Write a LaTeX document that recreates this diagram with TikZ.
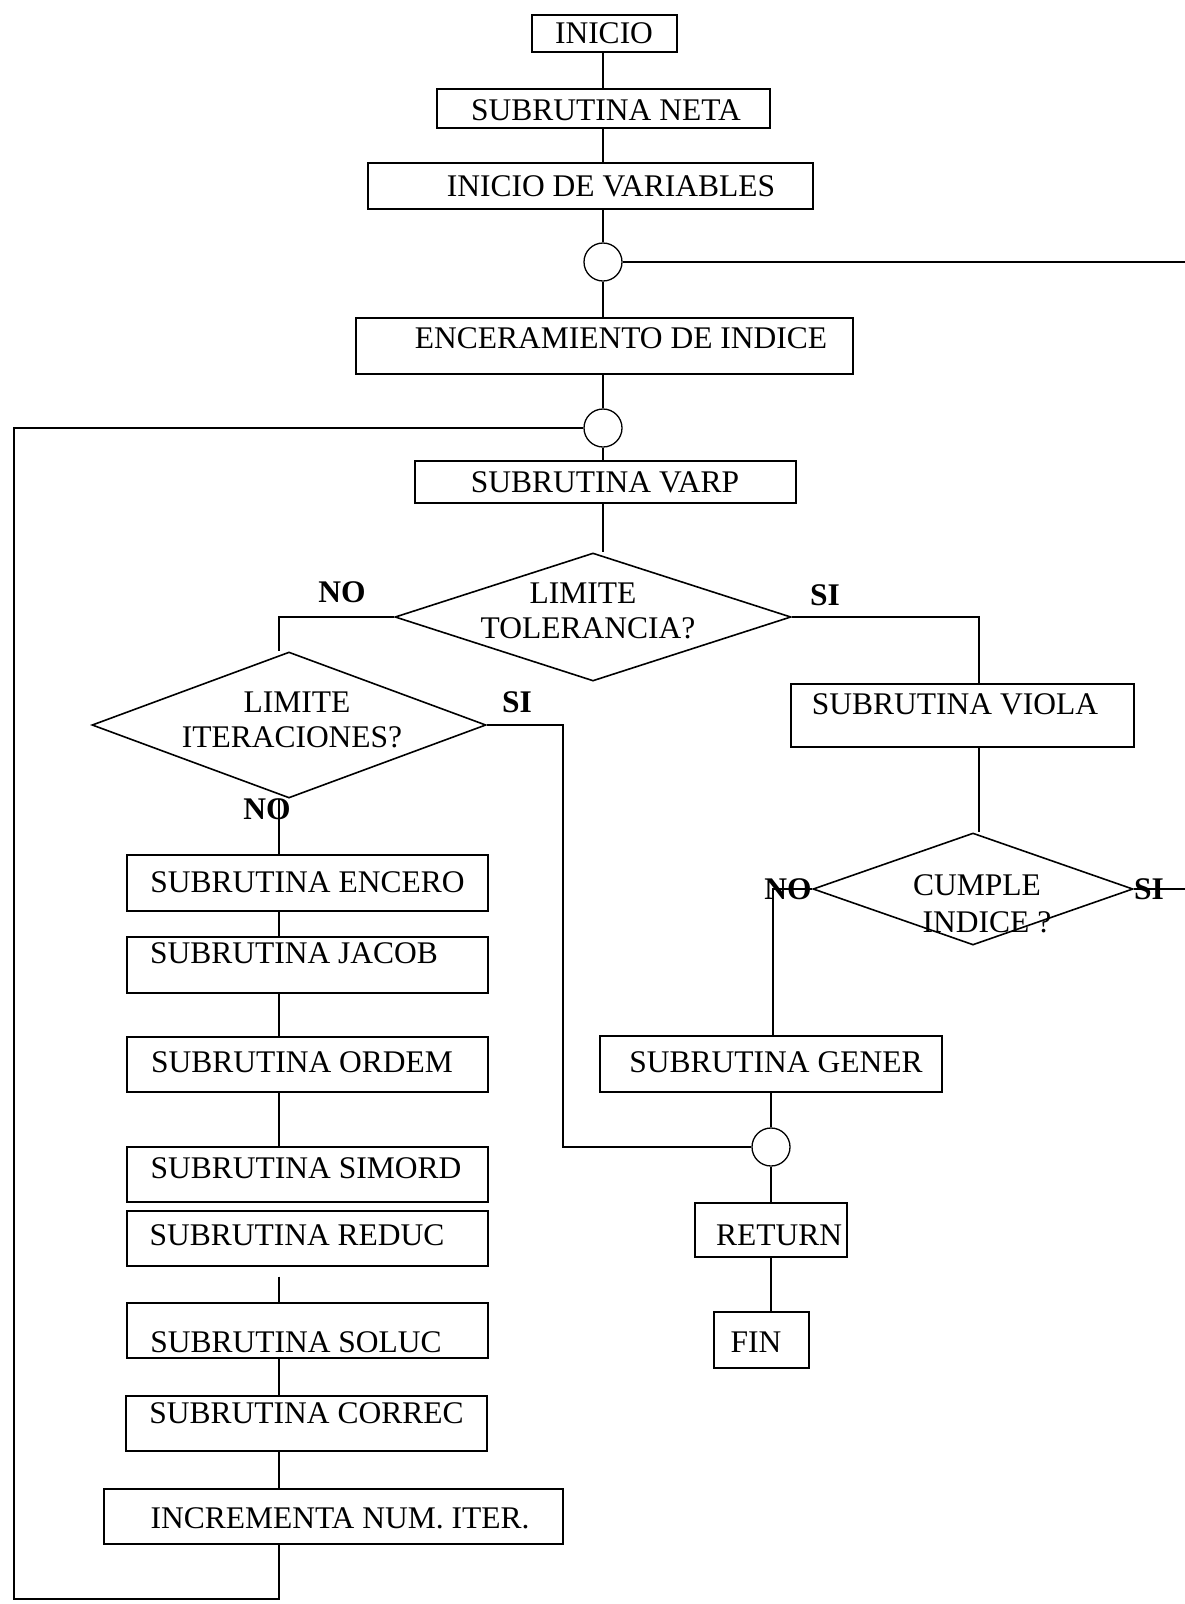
\documentclass[tikz,border=0pt]{standalone}
\usepackage{fontspec}
\setmainfont{Liberation Serif}
\usetikzlibrary{shapes.geometric}
\begin{document}
\begin{tikzpicture}[x=1pt,y=-1pt,
  line width=1.3pt,
  bx/.style={draw, rectangle, inner sep=0pt},
  dm/.style={draw, diamond, inner sep=0pt, line width=1.6pt},
  cj/.style={draw, circle, inner sep=0pt, minimum size=38pt},
  txt/.style={inner sep=0pt, text height=21pt, text depth=0pt, font=\fontsize{31.5}{36}\selectfont},
  lab/.style={txt, font=\fontsize{31.5}{36}\selectfont\bfseries}]
\useasboundingbox (0,0) rectangle (1185,1604);

% guide lanes for the connectors
\coordinate (mainx) at (603,0);
\coordinate (colL) at (279,0);
\coordinate (siX) at (563,0);
\coordinate (violaX) at (979,0);
\coordinate (noX) at (773,0);
\coordinate (edgeTop) at (1185,262);
\coordinate (edgeMid) at (1185,889);
\coordinate (lb) at (14,1599);
\coordinate (rb) at (279,1599);

% boxes
\node[bx, minimum width=145pt, minimum height=37pt] (ini) at (604.5,33.5) {};
\node[bx, minimum width=333pt, minimum height=39pt] (neta) at (603.5,108.5) {};
\node[bx, minimum width=445pt, minimum height=46pt] (var) at (590.5,186) {};
\node[bx, minimum width=497pt, minimum height=56pt] (enc) at (604.5,346) {};
\node[bx, minimum width=381pt, minimum height=42pt] (varp) at (605.5,482) {};
\node[bx, minimum width=343pt, minimum height=63pt] (viola) at (962.5,715.5) {};
\node[bx, minimum width=361pt, minimum height=56pt] (encero) at (307.5,883) {};
\node[bx, minimum width=361pt, minimum height=56pt] (jacob) at (307.5,965) {};
\node[bx, minimum width=361pt, minimum height=55pt] (ordem) at (307.5,1064.5) {};
\node[bx, minimum width=361pt, minimum height=55pt] (simord) at (307.5,1174.5) {};
\node[bx, minimum width=361pt, minimum height=55pt] (reduc) at (307.5,1238.5) {};
\node[bx, minimum width=361pt, minimum height=55pt] (soluc) at (307.5,1330.5) {};
\node[bx, minimum width=361pt, minimum height=55pt] (correc) at (306.5,1423.5) {};
\node[bx, minimum width=459pt, minimum height=55pt] (incr) at (333.5,1516.5) {};
\node[bx, minimum width=342pt, minimum height=56pt] (gener) at (771,1064) {};
\node[bx, minimum width=152pt, minimum height=54pt] (ret) at (771,1230) {};
\node[bx, minimum width=95pt, minimum height=56pt] (fin) at (761.5,1340) {};

% connectors (junction circles)
\node[cj] (c1) at (603,262) {};
\node[cj] (c2) at (603,428) {};
\node[cj] (c3) at (771,1147) {};

% decisions
\node[dm, minimum width=396pt, minimum height=128pt] (d1) at (593,617) {};
\node[dm, minimum width=394pt, minimum height=146pt] (d2) at (289,725) {};
\node[dm, minimum width=320pt, minimum height=112pt] (d3) at (973,889) {};

% texts
\node[txt] (tini) at (604,33) {INICIO};
\node[txt] (tneta) at (606,110) {SUBRUTINA NETA};
\node[txt] (tvar) at (611,186) {INICIO DE VARIABLES};
\node[txt] (tenc) at (621,338) {ENCERAMIENTO DE INDICE};
\node[txt] (tvarp) at (605,482) {SUBRUTINA VARP};
\node[txt] (td1a) at (583,593) {LIMITE};
\node[txt] (td1b) at (588,628) {TOLERANCIA?};
\node[txt] (td2a) at (297,702) {LIMITE};
\node[txt] (td2b) at (292,737) {ITERACIONES?};
\node[txt] (tviola) at (955,704) {SUBRUTINA VIOLA};
\node[txt] (td3a) at (977,885) {CUMPLE};
\node[txt] (td3b) at (987,922) {INDICE ?};
\node[txt] (tencero) at (307.5,882) {SUBRUTINA ENCERO};
\node[txt] (tjacob) at (294,953) {SUBRUTINA JACOB};
\node[txt] (tordem) at (302,1062) {SUBRUTINA ORDEM};
\node[txt] (tsimord) at (306,1168) {SUBRUTINA SIMORD};
\node[txt] (treduc) at (297,1235) {SUBRUTINA REDUC};
\node[txt] (tsoluc) at (296,1342) {SUBRUTINA SOLUC};
\node[txt] (tcorrec) at (306.5,1413) {SUBRUTINA CORREC};
\node[txt] (tincr) at (340,1518) {INCREMENTA NUM. ITER.};
\node[txt] (tgener) at (776,1062) {SUBRUTINA GENER};
\node[txt] (tret) at (779,1235) {RETURN};
\node[txt] (tfin) at (756,1342) {FIN};

% branch labels
\node[lab] (noA) at (342,592) {NO};
\node[lab] (siA) at (825,595) {SI};
\node[lab] (siB) at (517,702) {SI};
\node[lab] (noB) at (267,809) {NO};
\node[lab] (noC) at (788,889) {NO};
\node[lab] (siC) at (1149,889) {SI};

% main column
\draw (ini.south -| mainx) -- (neta.north -| mainx);
\draw (neta.south -| mainx) -- (var.north -| mainx);
\draw (var.south -| mainx) -- (c1.north);
\draw (c1.south) -- (enc.north -| mainx);
\draw (enc.south -| mainx) -- (c2.north);
\draw (c2.south) -- (varp.north -| mainx);
\draw (varp.south -| mainx) -- (d1.north -| mainx);
\draw (c1.east) -- (edgeTop);

% tolerance decision
\draw (d1.west) -- (d1.west -| colL) -- (d2.north -| colL);
\draw (d1.east) -- (d1.east -| violaX) -- (viola.north -| violaX);
\draw (viola.south -| violaX) -- (d3.north -| violaX);

% iteration decision and its chain
\draw (d2.east) -- (d2.east -| siX) -- (c3.west -| siX) -- (c3.west);
\draw (d2.south -| colL) -- (encero.north -| colL);
\draw (encero.south -| colL) -- (jacob.north -| colL);
\draw (jacob.south -| colL) -- (ordem.north -| colL);
\draw (ordem.south -| colL) -- (simord.north -| colL);
\draw[shorten <=10pt] (reduc.south -| colL) -- (soluc.north -| colL);
\draw (soluc.south -| colL) -- (correc.north -| colL);
\draw (correc.south -| colL) -- (incr.north -| colL);
\draw (incr.south -| colL) -- (rb) -- (lb) -- (lb |- c2) -- (c2.west);

% index decision and exit
\draw (d3.west) -- (d3.west -| noX) -- (gener.north -| noX);
\draw (d3.east) -- (edgeMid);
\draw (gener.south) -- (c3.north);
\draw (c3.south) -- (ret.north);
\draw (ret.south) -- (ret.south |- fin.north);
\end{tikzpicture}
\end{document}
